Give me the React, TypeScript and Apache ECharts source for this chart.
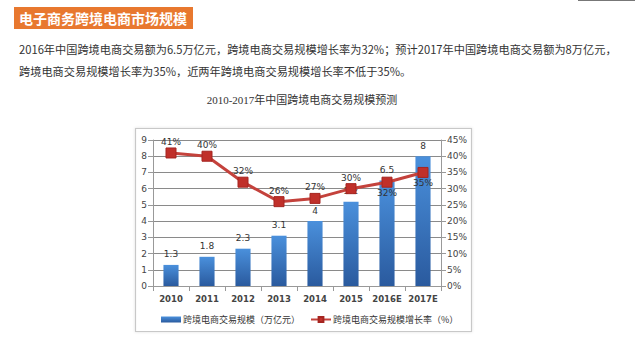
import React, { useEffect, useRef } from "react";
import * as echarts from "echarts";

const categories = ["2010", "2011", "2012", "2013", "2014", "2015", "2016E", "2017E"];
const scaleValues = [1.3, 1.8, 2.3, 3.1, 4, 5.2, 6.5, 8];
const growthValues = [41, 40, 32, 26, 27, 30, 32, 35];
const growthLabelPos = ["top", "top", "top", "top", "top", "top", "bottom", "bottom"];
const barName = "跨境电商交易规模（万亿元）";
const lineName = "跨境电商交易规模增长率（%）";
const heading = "电子商务跨境电商市场规模";
const para1 = "2016年中国跨境电商交易额为6.5万亿元，跨境电商交易规模增长率为32%；预计2017年中国跨境电商交易额为8万亿元，";
const para2 = "跨境电商交易规模增长率为35%，近两年跨境电商交易规模增长率不低于35%。";
const chartTitle = "2010-2017年中国跨境电商交易规模预测";

export default function App() {
  const ref = useRef<HTMLDivElement>(null);
  useEffect(() => {
    const chart = echarts.init(ref.current!, null, { renderer: "svg" });
    const sans = "'Noto Sans CJK SC', 'Noto Sans', sans-serif";
    const num = "'DejaVu Sans', sans-serif";
    chart.setOption({
      animation: false,
      backgroundColor: "#ffffff",
      graphic: [
        { type: "line", shape: { x1: 578, y1: 0.5, x2: 635, y2: 0.5 }, style: { stroke: "#777", lineWidth: 1 } },
        { type: "rect", shape: { x: 14, y: 7, width: 179, height: 22 }, style: { fill: "#E8782F" } },
        { type: "text", x: 19, y: 18, style: { text: heading, fill: "#fff", font: `bold 14px ${sans}`, verticalAlign: "middle" } },
        { type: "text", x: 19, y: 49, style: { text: para1, fill: "#333", font: `11.2px ${sans}`, verticalAlign: "middle" } },
        { type: "text", x: 19, y: 71, style: { text: para2, fill: "#333", font: `11.2px ${sans}`, verticalAlign: "middle" } },
        { type: "text", x: 302, y: 100, style: { text: chartTitle, fill: "#333", font: `11px 'Liberation Serif', 'Noto Sans CJK SC', serif`, align: "center", verticalAlign: "middle" } },
        { type: "rect", z: -1, shape: { x: 135.5, y: 128.5, width: 336, height: 203 }, style: { fill: "#fff", stroke: "#c8c8c8", lineWidth: 1.2, shadowBlur: 3, shadowColor: "rgba(0,0,0,0.12)" } },
      ],
      grid: { left: 153, right: 194, top: 140, height: 146 },
      legend: {
        top: 310,
        left: 156,
        itemGap: 10,
        itemWidth: 20,
        itemHeight: 6,
        textStyle: { fontSize: 9, color: "#333", fontFamily: sans, padding: [0, 0, 0, -3] },
        data: [
          { name: barName, icon: "rect" },
          { name: lineName },
        ],
      },
      xAxis: {
        type: "category",
        data: categories,
        axisLine: { lineStyle: { color: "#999" } },
        axisTick: { show: true, lineStyle: { color: "#999" } },
        axisLabel: { interval: 0, fontSize: 8.5, fontWeight: "bold", color: "#444", margin: 8, fontFamily: num },
      },
      yAxis: [
        {
          type: "value",
          min: 0,
          max: 9,
          interval: 1,
          axisLine: { show: true, lineStyle: { color: "#999" } },
          axisTick: { show: true, lineStyle: { color: "#999" } },
          axisLabel: { fontSize: 9, color: "#444", margin: 6, fontFamily: num },
          splitLine: { lineStyle: { color: "#8a8a8a", width: 1 } },
        },
        {
          type: "value",
          min: 0,
          max: 45,
          interval: 5,
          axisLine: { show: true, lineStyle: { color: "#999" } },
          axisTick: { show: true, lineStyle: { color: "#999" } },
          axisLabel: { fontSize: 9, color: "#444", margin: 6, formatter: "{value}%", fontFamily: num },
          splitLine: { show: false },
        },
      ],
      series: [
        {
          name: barName,
          type: "bar",
          data: scaleValues,
          barWidth: "42%",
          itemStyle: {
            color: new echarts.graphic.LinearGradient(0, 0, 0, 1, [
              { offset: 0, color: "#4A90DC" },
              { offset: 1, color: "#2A5A9E" },
            ]),
          },
          label: { show: true, position: "top", fontSize: 9, color: "#333", distance: 6, fontFamily: num },
        },
        {
          name: lineName,
          type: "line",
          yAxisIndex: 1,
          data: growthValues.map((v, i) => ({
            value: v,
            label: { position: growthLabelPos[i] },
          })),
          symbol: "rect",
          symbolSize: 10,
          lineStyle: { color: "#C4423C", width: 3 },
          itemStyle: { color: "#C0302A", borderColor: "#A52520", borderWidth: 1 },
          label: { show: true, fontSize: 9, color: "#333", formatter: "{c}%", distance: 1, fontFamily: num },
          z: 3,
        },
      ],
    });
    return () => chart.dispose();
  }, []);
  return <div ref={ref} style={{ position: "absolute", left: 0, top: 0, width: 635, height: 351 }} />;
}
